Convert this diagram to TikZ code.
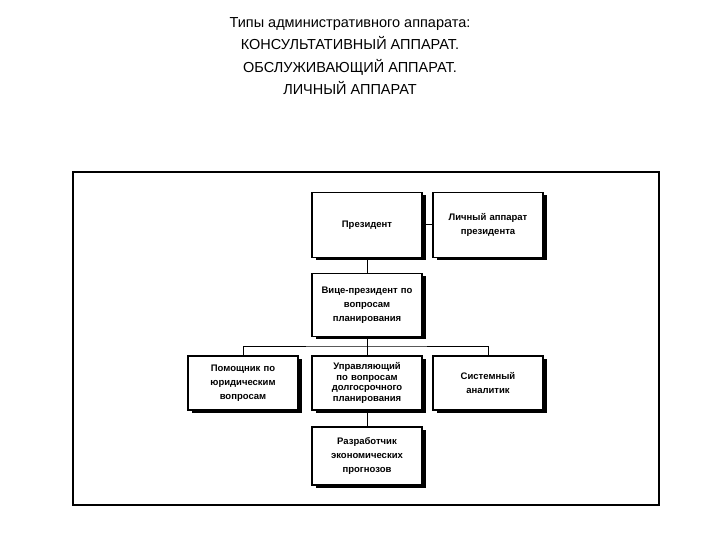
\documentclass[tikz,border=0pt]{standalone}
\usepackage{fontspec}
\setmainfont{Liberation Sans}
\usetikzlibrary{shadows}
\begin{document}
\begin{tikzpicture}[x=1pt,y=-1pt,
  box/.style={draw,line width=1.2pt,fill=white,align=center,font=\bfseries\fontsize{9.5}{14}\selectfont,
    inner sep=1pt,drop shadow={shadow xshift=4pt,shadow yshift=-2.5pt,fill=black,opacity=1}},
  ln/.style={line width=1pt}]
\useasboundingbox (0,0) rectangle (720,540);
\node[align=center,font=\fontsize{14.5}{22.5}\selectfont] (title) at (350,56)
 {Типы административного аппарата:\\КОНСУЛЬТАТИВНЫЙ АППАРАТ.\\ОБСЛУЖИВАЮЩИЙ АППАРАТ.\\ЛИЧНЫЙ АППАРАТ};
\draw[line width=1.5pt] (73,172) rectangle (659,505);
\node[box,minimum width=110pt,minimum height=65pt] (pr) at (367,225) {Президент};
\node[box,minimum width=110pt,minimum height=65pt,text width=106pt] (li) at (488,225) {Личный аппарат\\президента};
\node[box,minimum width=110pt,minimum height=63pt,text width=108pt] (vp) at (367,305) {Вице-президент по\\вопросам\\планирования};
\node[box,minimum width=110pt,minimum height=54pt,text width=106pt] (po) at (243,383) {Помощник по\\юридическим\\вопросам};
\node[box,minimum width=110pt,minimum height=54pt,text width=106pt,font=\bfseries\fontsize{9.5}{10.5}\selectfont] (up) at (367,383) {Управляющий\\по вопросам\\долгосрочного\\планирования};
\node[box,minimum width=110pt,minimum height=54pt,text width=106pt] (si) at (488,383) {Системный\\аналитик};
\node[box,minimum width=110pt,minimum height=58pt,text width=106pt] (ra) at (367,456) {Разработчик\\экономических\\прогнозов};
\draw[ln] (pr) -- (li);
\draw[ln] (pr) -- (vp);
\coordinate (bus) at (367,346);
\draw[ln] (vp) -- (bus);
\draw[ln] (po.north) |- (bus) -| (si.north);
\draw[ln] (bus) -- (up);
\draw[ln] (up) -- (ra);
\end{tikzpicture}
\end{document}
